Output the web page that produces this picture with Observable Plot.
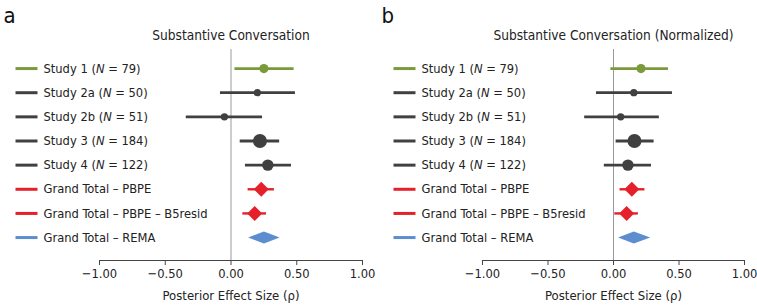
<!DOCTYPE html>
<html>
<head>
<meta charset="utf-8">
<script src="https://cdn.jsdelivr.net/npm/d3@7"></script>
<script src="https://cdn.jsdelivr.net/npm/@observablehq/plot@0.6"></script>
<style>
  body { margin: 0; background: #fff; }
  #wrap { display: flex; width: 757px; height: 305px; }
</style>
</head>
<body>
<div id="wrap"></div>
<script>
// ---- data ----
const labels = [
  "Study 1 (N = 79)",
  "Study 2a (N = 50)",
  "Study 2b (N = 51)",
  "Study 3 (N = 184)",
  "Study 4 (N = 122)",
  "Grand Total – PBPE",
  "Grand Total – PBPE – B5resid",
  "Grand Total – REMA"
];
const kinds = ["study", "study", "study", "study", "study", "pbpe", "pbpe", "rema"];
const sampleN = [79, 50, 51, 184, 122, null, null, null];
const rowColors = ["#7a9a3c", "#404040", "#404040", "#404040", "#404040", "#e5202a", "#e5202a", "#5b8dcf"];

// Panel a: Substantive Conversation
const estA = [0.25, 0.20, -0.05, 0.22, 0.28, 0.23, 0.18, 0.25];
const loA  = [0.03, -0.08, -0.34, 0.07, 0.11, 0.13, 0.09, 0.13];
const hiA  = [0.48, 0.49, 0.24, 0.37, 0.46, 0.33, 0.27, 0.37];

// Panel b: Substantive Conversation (Normalized)
const estB = [0.21, 0.155, 0.055, 0.16, 0.11, 0.14, 0.10, 0.155];
const loB  = [-0.02, -0.13, -0.22, 0.02, -0.07, 0.05, 0.01, 0.035];
const hiB  = [0.42, 0.45, 0.35, 0.31, 0.29, 0.24, 0.19, 0.28];

const xTicks = [-1, -0.5, 0, 0.5, 1];
const xLabel = "Posterior Effect Size (ρ)";

const FONT = "'Liberation Sans Narrow', 'DejaVu Sans Condensed', 'Arial Narrow', sans-serif";

const lineSymbol = {
  draw(context) {
    context.moveTo(-11, 0);
    context.lineTo(11, 0);
  }
};
const diamondSymbol = {
  draw(context) {
    context.moveTo(0, -7.5);
    context.lineTo(7.5, 0);
    context.lineTo(0, 7.5);
    context.lineTo(-7.5, 0);
    context.closePath();
  }
};

function panel({letter, title, est, lo, hi, width, ml, mr}) {
  const rows = labels.map((label, i) => ({
    i, label, kind: kinds[i], N: sampleN[i], color: rowColors[i],
    est: est[i], lo: lo[i], hi: hi[i]
  }));
  const studies = rows.filter(d => d.kind === "study");
  const pbpe = rows.filter(d => d.kind === "pbpe");
  const rema = rows.filter(d => d.kind === "rema");
  const h = 0.25; // half-height of REMA diamond in row units
  const remaPoly = rema.flatMap(d => [
    {x: d.lo, y: d.i, g: d.i, color: d.color},
    {x: d.est, y: d.i - h, g: d.i, color: d.color},
    {x: d.hi, y: d.i, g: d.i, color: d.color},
    {x: d.est, y: d.i + h, g: d.i, color: d.color},
    {x: d.lo, y: d.i, g: d.i, color: d.color}
  ]);
  const mt = 49, mb = 45;

  const svg = Plot.plot({
    width, height: 305,
    marginLeft: ml, marginRight: mr, marginTop: mt, marginBottom: mb,
    style: {fontFamily: FONT, fontSize: "13px", color: "#222", background: "#fff", overflow: "visible"},
    x: {domain: [-1, 1]},
    y: {domain: [-0.79, 7.95], reverse: true, axis: null},
    r: {domain: [0, 184], range: [0, 7]},
    color: {type: "identity"},
    marks: [
      Plot.ruleX([0], {stroke: "#9a9a9a", strokeWidth: 1}),
      Plot.frame({anchor: "bottom", stroke: "#444", strokeWidth: 1}),
      Plot.axisX({
        ticks: xTicks, tickFormat: d3.format(".2f"), tickSize: 5, tickPadding: 3,
        fontSize: 12.8, label: null, stroke: "#444", color: "#222"
      }),
      // CI lines
      Plot.ruleY(rows.filter(d => d.kind !== "rema"), {
        y: "i", x1: "lo", x2: "hi", stroke: "color",
        strokeWidth: d => d.kind === "study" ? 2.8 : 2.4
      }),
      // study points
      Plot.dot(studies, {x: "est", y: "i", r: "N", fill: "color"}),
      // PBPE diamonds
      Plot.dot(pbpe, {x: "est", y: "i", symbol: diamondSymbol, fill: "color", r: 5}),
      // REMA diamond
      Plot.line(remaPoly, {x: "x", y: "y", z: "g", fill: "color", stroke: "none", curve: "linear"}),
      // legend
      Plot.dot(rows, {y: "i", frameAnchor: "left", dx: -(ml - 26), symbol: lineSymbol,
        stroke: "color", strokeWidth: 3, fill: "none", r: 5}),
      Plot.text(rows, {y: "i", frameAnchor: "left", dx: -(ml - 43), text: "label",
        textAnchor: "start", fontSize: 12.8, fill: "#222"}),
      // title
      Plot.text([title], {frameAnchor: "top", dy: -14, lineAnchor: "middle", fontSize: 13.6, fill: "#222"}),
      // x label
      Plot.text([xLabel], {frameAnchor: "bottom", dy: 35, lineAnchor: "middle", fontSize: 13, fill: "#222"}),
      // panel letter
      Plot.text([letter], {frameAnchor: "top-left", dx: -(ml - 3), dy: -(mt - 22), lineAnchor: "bottom",
        textAnchor: "start", fontSize: 22, fill: "#111"})
    ]
  });

  // italicize N in legend labels
  d3.select(svg).selectAll("text").each(function() {
    const t = this.textContent;
    if (this.children.length === 0 && t.includes("(N =")) {
      const k = t.indexOf("(N =");
      const sel = d3.select(this);
      sel.text(null);
      sel.append("tspan").text(t.slice(0, k + 1));
      sel.append("tspan").attr("font-style", "italic").text("N");
      sel.append("tspan").text(t.slice(k + 2));
    }
  });
  return svg;
}

const wrap = document.getElementById("wrap");
wrap.append(panel({letter: "a", title: "Substantive Conversation", est: estA, lo: loA, hi: hiA,
  width: 378, ml: 99, mr: 16}));
wrap.append(panel({letter: "b", title: "Substantive Conversation (Normalized)", est: estB, lo: loB, hi: hiB,
  width: 379, ml: 104, mr: 13}));
</script>
</body>
</html>
